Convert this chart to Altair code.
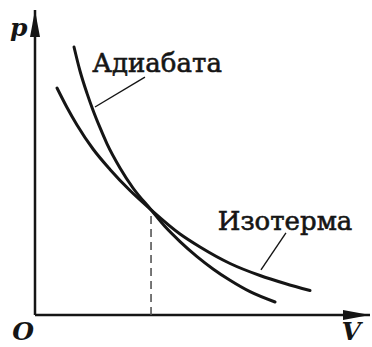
import altair as alt
import pandas as pd

# Curves on the p–V diagram (arbitrary units)
V_adiabat = [1.281, 1.478, 1.708, 1.905, 2.135, 2.365, 2.791, 3.218, 3.810, 4.269, 4.762, 5.320, 5.846, 6.404, 7.061, 7.882]
p_adiabat = [8.787, 8.000, 7.266, 6.715, 6.141, 5.613, 4.823, 4.164, 3.450, 2.898, 2.407, 1.915, 1.511, 1.138, 0.764, 0.426]
V_isotherm = [0.722, 1.051, 1.379, 1.905, 2.463, 3.120, 3.810, 4.762, 5.419, 6.404, 7.389, 8.210, 9.031]
p_isotherm = [7.443, 6.803, 6.230, 5.443, 4.774, 4.082, 3.450, 2.656, 2.230, 1.689, 1.295, 1.033, 0.803]

# Common state where both curves meet
V_cross, p_cross = 3.81, 3.45

# Axis extents
V_max, p_max = 11, 10

# Curve names and their leader lines (label anchor -> curve)
labels = ["Адиабата", "Изотерма"]
label_V = [4.01, 8.21]
label_p = [8.23, 3.05]
leader_V1 = [3.61, 8.24]
leader_p1 = [7.80, 2.69]
leader_V2 = [1.97, 7.42]
leader_p2 = [6.82, 1.48]

# Axis letters
axis_letters = ["p", "O", "V"]
letter_V = [-0.53, -0.39, 10.38]
letter_p = [9.41, -0.55, -0.55]

INK = "#151515"
SERIF = "DejaVu Serif"

xs = alt.Scale(domain=[0, V_max], nice=False, zero=False)
ys = alt.Scale(domain=[0, p_max], nice=False, zero=False)

curves = pd.concat([
    pd.DataFrame({"V": V_adiabat, "p": p_adiabat, "curve": "adiabat"}),
    pd.DataFrame({"V": V_isotherm, "p": p_isotherm, "curve": "isotherm"}),
], ignore_index=True)

lines = alt.Chart(curves).mark_line(
    interpolate="monotone", color=INK, strokeWidth=3, strokeCap="round"
).encode(
    x=alt.X("V:Q", scale=xs, axis=None),
    y=alt.Y("p:Q", scale=ys, axis=None),
    detail="curve:N",
)

cross = pd.DataFrame({"V": [V_cross], "p": [p_cross], "p0": [0.0]})
dashed = alt.Chart(cross).mark_rule(
    color="#555555", strokeWidth=1.6, strokeDash=[8, 5]
).encode(x=alt.X("V:Q", scale=xs, axis=None), y=alt.Y("p0:Q", scale=ys, axis=None), y2="p:Q")

# Coordinate axes with arrowheads
axes_df = pd.DataFrame({"x1": [0.0, 0.0], "y1": [0.0, 0.0], "x2": [float(V_max), 0.0], "y2": [0.0, float(p_max)]})
axes = alt.Chart(axes_df).mark_rule(color=INK, strokeWidth=2.5).encode(
    x=alt.X("x1:Q", scale=xs, axis=None), y=alt.Y("y1:Q", scale=ys, axis=None), x2="x2:Q", y2="y2:Q"
)

arrow_up = alt.Chart(pd.DataFrame({"V": [0.0], "p": [float(p_max)]})).mark_point(
    shape="M0,-1L0.37,1L-0.37,1Z", filled=True, size=729, color=INK,
    opacity=1, strokeWidth=0, yOffset=13.5
).encode(x=alt.X("V:Q", scale=xs, axis=None), y=alt.Y("p:Q", scale=ys, axis=None))

arrow_right = alt.Chart(pd.DataFrame({"V": [float(V_max)], "p": [0.0]})).mark_point(
    shape="M1,0L-1,-0.37L-1,0.37Z", filled=True, size=729, color=INK,
    opacity=1, strokeWidth=0, xOffset=-13.5
).encode(x=alt.X("V:Q", scale=xs, axis=None), y=alt.Y("p:Q", scale=ys, axis=None))

lead_df = pd.DataFrame({"V1": leader_V1, "p1": leader_p1, "V2": leader_V2, "p2": leader_p2})
leaders = alt.Chart(lead_df).mark_rule(color=INK, strokeWidth=1.4).encode(
    x=alt.X("V1:Q", scale=xs, axis=None), y=alt.Y("p1:Q", scale=ys, axis=None), x2="V2:Q", y2="p2:Q"
)

lab_df = pd.DataFrame({"name": labels, "V": label_V, "p": label_p})
names = alt.Chart(lab_df).mark_text(
    font=SERIF, fontSize=26, color=INK, stroke=INK, strokeWidth=0.6,
    align="center", baseline="middle"
).encode(x=alt.X("V:Q", scale=xs, axis=None), y=alt.Y("p:Q", scale=ys, axis=None), text="name:N")

let_df = pd.DataFrame({"t": axis_letters, "V": letter_V, "p": letter_p})
letters = alt.Chart(let_df).mark_text(
    font=SERIF, fontSize=25, fontStyle="italic", fontWeight="bold",
    color=INK, align="center", baseline="middle"
).encode(x=alt.X("V:Q", scale=xs, axis=None), y=alt.Y("p:Q", scale=ys, axis=None), text="t:N")

chart = alt.layer(
    axes, dashed, lines, leaders, arrow_up, arrow_right, names, letters,
).properties(
    width=335, height=305,
    padding={"left": 35, "top": 10, "right": 2, "bottom": 32},
    autosize=alt.AutoSizeParams(type="none"),
    background="white",
).configure_view(stroke=None)

chart.save("out.html", embed_options={"renderer": "svg", "actions": False})
